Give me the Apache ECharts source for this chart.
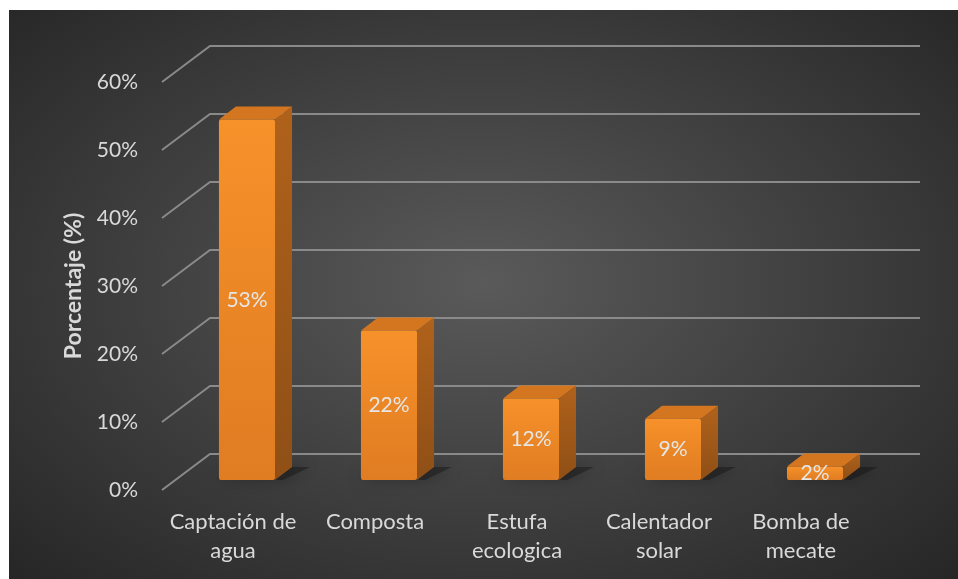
<!DOCTYPE html>
<html>
<head>
<meta charset="utf-8">
<script src="https://cdn.jsdelivr.net/npm/echarts@6/dist/echarts.min.js"></script>
<style>
  html, body { margin: 0; padding: 0; background: #ffffff; width: 958px; height: 579px; overflow: hidden; }
  #bg { position: absolute; left: 9px; top: 10px; width: 949px; height: 569px;
        background: radial-gradient(ellipse at 50% 48%, #5a5a5a 0%, #454545 40%, #262626 100%); }
  #chart { position: absolute; left: 0; top: 0; width: 958px; height: 579px; }
</style>
</head>
<body>
<div id="bg"></div>
<div id="chart"></div>
<script>
// ---- data ----
const categories = ['Captación de\nagua', 'Composta', 'Estufa\necologica', 'Calentador\nsolar', 'Bomba de\nmecate'];
const percentValues = [53, 22, 12, 9, 2];
const tickValues = [0, 10, 20, 30, 40, 50, 60];
const yAxisTitle = 'Porcentaje (%)';

// ---- 3D projection offsets (pixels) ----
const WALL_DX = 48, WALL_DY = -36;   // back wall offset from front plane
const BAR_DX = 14, BAR_DY = -10;     // bar front face offset from front plane
const DEPTH_DX = 17, DEPTH_DY = -13; // bar depth
const FONT = 'Lato, "Open Sans", sans-serif';
const TXT = '#d9d9d9';

const chart = echarts.init(document.getElementById('chart'), null, { renderer: 'canvas' });

function gridItem(params, api) {
  const cs = params.coordSys;
  const y = api.coord([0, api.value(1)])[1];
  const x0 = cs.x, x1 = cs.x + cs.width;
  return {
    type: 'polyline',
    shape: { points: [[x0, y], [x0 + WALL_DX, y + WALL_DY], [x1 + WALL_DX, y + WALL_DY]] },
    style: { stroke: '#8a8a8a', lineWidth: 2, fill: null }
  };
}

function barItem(params, api) {
  const i = api.value(0), v = api.value(1);
  const top = api.coord([i, v]);
  const base = api.coord([i, 0]);
  const w = api.size([1, 0])[0] * 0.395;
  const xl = top[0] - w / 2 + BAR_DX, xr = top[0] + w / 2 + BAR_DX;
  const yt = top[1] + BAR_DY, yb = base[1] + BAR_DY;
  const children = [];
  // floor shadow
  children.push({
    type: 'polygon',
    shape: { points: [[xl - 2, yb - 1], [xl + DEPTH_DX + 4, yb + DEPTH_DY], [xr + DEPTH_DX + 18, yb + DEPTH_DY], [xr + 8, yb]] },
    style: { fill: 'rgba(15,15,15,0.4)', shadowBlur: 14, shadowColor: 'rgba(0,0,0,0.7)' }
  });
  // side face
  children.push({
    type: 'polygon',
    shape: { points: [[xr, yt], [xr + DEPTH_DX, yt + DEPTH_DY], [xr + DEPTH_DX, yb + DEPTH_DY], [xr, yb]] },
    style: { fill: new echarts.graphic.LinearGradient(0, 0, 0, 1, [
      { offset: 0, color: '#b0621b' }, { offset: 1, color: '#8f4f16' }]) }
  });
  // top face
  children.push({
    type: 'polygon',
    shape: { points: [[xl, yt], [xl + DEPTH_DX, yt + DEPTH_DY], [xr + DEPTH_DX, yt + DEPTH_DY], [xr, yt]] },
    style: { fill: '#d4761f' }
  });
  // front face
  children.push({
    type: 'rect',
    shape: { x: xl, y: yt, width: xr - xl, height: yb - yt, r: 2 },
    style: { fill: new echarts.graphic.LinearGradient(0, 0, 0, 1, [
      { offset: 0, color: '#f7912a' }, { offset: 1, color: '#e07c22' }]) }
  });
  // data label
  children.push({
    type: 'text',
    style: { text: v + '%', x: (xl + xr) / 2, y: (yt + yb) / 2, align: 'center', verticalAlign: 'middle',
             fill: '#e6e6e6', font: '21px ' + FONT }
  });
  return { type: 'group', children };
}

chart.setOption({
  backgroundColor: 'transparent',
  animation: false,
  grid: { left: 162, right: 86, top: 82, bottom: 89 },
  xAxis: {
    type: 'category',
    data: categories,
    axisLine: { show: false },
    axisTick: { show: false },
    splitLine: { show: false },
    axisLabel: { color: TXT, fontSize: 22, fontFamily: FONT, lineHeight: 29, margin: 17, interval: 0 }
  },
  yAxis: {
    type: 'value',
    min: 0, max: 60, interval: 10,
    axisLine: { show: false },
    axisTick: { show: false },
    splitLine: { show: false },
    axisLabel: { color: TXT, fontSize: 21, fontFamily: FONT, margin: 24, formatter: '{value}%' },
    name: yAxisTitle,
    nameLocation: 'middle',
    nameGap: 77,
    nameTextStyle: { color: TXT, fontSize: 23, fontWeight: 'bold', fontFamily: FONT }
  },
  series: [
    {
      type: 'custom',
      renderItem: gridItem,
      data: tickValues.map(t => [0, t]),
      silent: true,
      z: 1
    },
    {
      type: 'custom',
      renderItem: barItem,
      data: percentValues.map((v, i) => [i, v]),
      z: 2
    }
  ]
});
</script>
</body>
</html>
